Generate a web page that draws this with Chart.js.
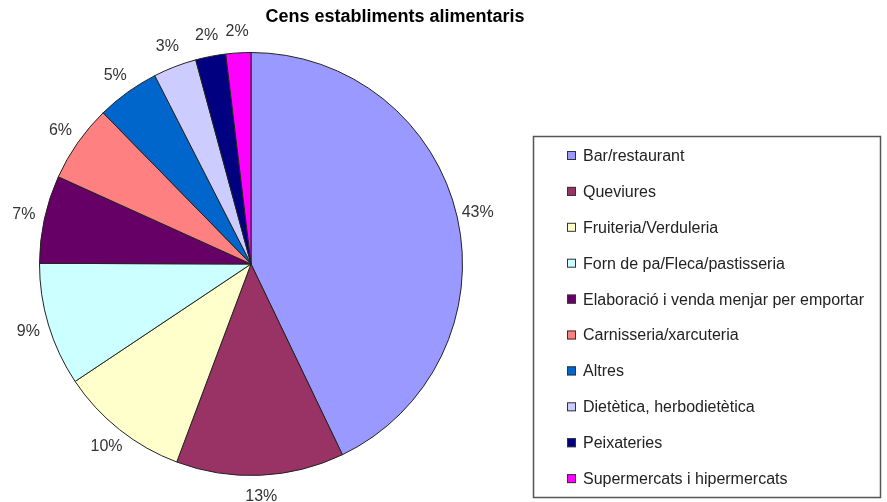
<!DOCTYPE html>
<html>
<head>
<meta charset="utf-8">
<script src="https://cdn.jsdelivr.net/npm/chart.js@4"></script>
<style>
  body { margin: 0; background: #fff; }
  #wrap { width: 887px; height: 502px; position: relative; }
</style>
</head>
<body>
<div id="wrap"><canvas id="myChart" width="887" height="502"></canvas></div>
<script>
// data (share of establishments, %)
const title = "Cens establiments alimentaris";
const categories = ["Bar/restaurant", "Queviures", "Fruiteria/Verduleria", "Forn de pa/Fleca/pastisseria",
  "Elaboració i venda menjar per emportar", "Carnisseria/xarcuteria", "Altres",
  "Dietètica, herbodietètica", "Peixateries", "Supermercats i hipermercats"];
const values = [42.8, 12.8, 9.9, 9.4, 6.7, 5.9, 4.8, 3.3, 2.3, 1.9];
const colors = ["#9999FF", "#993366", "#FFFFCC", "#CCFFFF", "#660066", "#FF8080", "#0066CC", "#CCCCFF", "#000080", "#FF00FF"];

// title, percent labels and the boxed legend on the right
const extras = {
  id: "extras",
  afterDraw(chart) {
    const ctx = chart.ctx;
    ctx.save();
    ctx.fillStyle = "#000";
    ctx.font = "bold 18px Arial, 'Liberation Sans', sans-serif";
    ctx.textAlign = "center";
    ctx.textBaseline = "middle";
    ctx.fillText(title, 395, 17);

    // percent labels outside each slice
    const total = values.reduce((a, b) => a + b, 0);
    const meta = chart.getDatasetMeta(0);
    ctx.font = "16px Arial, 'Liberation Sans', sans-serif";
    ctx.fillStyle = "#333";
    meta.data.forEach(function(arc, i) {
      const p = arc.getProps(["x", "y", "startAngle", "endAngle", "outerRadius"], true);
      const mid = (p.startAngle + p.endAngle) / 2;
      const r = p.outerRadius + 21;
      ctx.fillText(Math.round(values[i] / total * 100) + "%", p.x + Math.cos(mid) * r, p.y + Math.sin(mid) * r);
    });

    // legend box
    ctx.strokeStyle = "#555";
    ctx.lineWidth = 1.5;
    ctx.strokeRect(533.5, 136.5, 347, 361);
    ctx.textAlign = "left";
    categories.forEach(function(c, i) {
      const y = 155.5 + i * 35.9;
      ctx.fillStyle = colors[i];
      ctx.fillRect(567, y - 4.5, 9, 9);
      ctx.strokeStyle = "#333";
      ctx.lineWidth = 1;
      ctx.strokeRect(567.5, y - 4, 8, 8);
      ctx.fillStyle = "#222";
      ctx.fillText(c, 583, y + 1);
    });
    ctx.restore();
  }
};

const ctx = document.getElementById("myChart");
new Chart(ctx, {
  type: "pie",
  data: {
    labels: categories,
    datasets: [{
      data: values,
      backgroundColor: colors,
      borderColor: "#222",
      borderWidth: 1
    }]
  },
  options: {
    responsive: false,
    animation: false,
    layout: { padding: { left: 39, right: 424, top: 52, bottom: 26 } },
    plugins: {
      legend: { display: false },
      tooltip: { enabled: false }
    }
  },
  plugins: [extras]
});
</script>
</body>
</html>
